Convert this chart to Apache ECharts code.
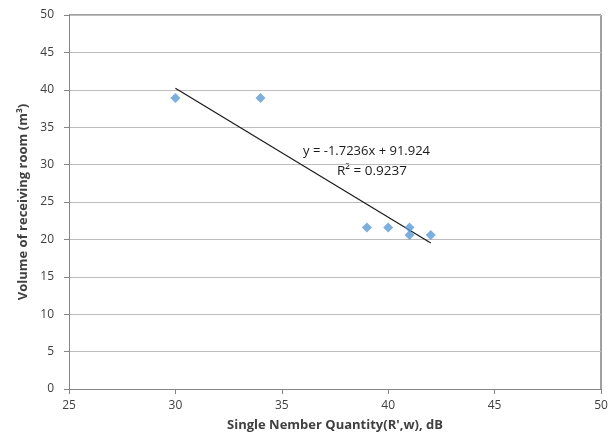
<!DOCTYPE html>
<html>
<head>
<meta charset="utf-8">
<script src="https://cdn.jsdelivr.net/npm/echarts@6/dist/echarts.min.js"></script>
<style>
  html, body { margin: 0; padding: 0; background: #fff; }
  #chart { width: 615px; height: 441px; }
</style>
</head>
<body>
<div id="chart"></div>
<script>
// Measured single number quantity (dB) vs receiving room volume (m³)
var ratingDb = [30, 34, 39, 40, 41, 41, 42];
var roomVolume = [38.9, 38.9, 21.6, 21.6, 21.6, 20.6, 20.6];

// Linear trendline coefficients and the span it is drawn over
var trendSlope = -1.7236;
var trendIntercept = 91.924;
var trendR2 = 0.9237;
var trendSpan = [30, 42];

var xTicks = [25, 30, 35, 40, 45, 50];
var yTicks = [0, 5, 10, 15, 20, 25, 30, 35, 40, 45, 50];

var points = ratingDb.map(function (x, i) { return [x, roomVolume[i]]; });
var trendLine = trendSpan.map(function (x) { return [x, trendSlope * x + trendIntercept]; });

var font = '"Open Sans", "Liberation Sans", sans-serif';

var chart = echarts.init(document.getElementById('chart'), null, { renderer: 'canvas' });
chart.setOption({
  animation: false,
  backgroundColor: '#ffffff',
  grid: { left: 69, right: 14, top: 15, bottom: 52, containLabel: false },
  xAxis: {
    type: 'value',
    min: xTicks[0], max: xTicks[xTicks.length - 1], interval: 5,
    name: "Single Nember Quantity(R',w), dB",
    nameLocation: 'middle', nameGap: 30,
    nameTextStyle: { fontFamily: font, fontWeight: 'bold', fontSize: 13, color: '#404040' },
    axisLine: { show: true, lineStyle: { color: '#868686', width: 1 } },
    axisTick: { show: true, length: 5, lineStyle: { color: '#868686' } },
    axisLabel: { fontFamily: font, fontSize: 12, color: '#404040', margin: 11 },
    splitLine: { show: false }
  },
  yAxis: {
    type: 'value',
    min: yTicks[0], max: yTicks[yTicks.length - 1], interval: 5,
    name: 'Volume of receiving room (m³)',
    nameLocation: 'middle', nameGap: 38, nameRotate: 90,
    nameTextStyle: { fontFamily: font, fontWeight: 'bold', fontSize: 13, color: '#404040' },
    axisLine: { show: true, lineStyle: { color: '#868686', width: 1 } },
    axisTick: { show: true, length: 5, lineStyle: { color: '#868686' } },
    axisLabel: { fontFamily: font, fontSize: 12, color: '#404040', margin: 15 },
    splitLine: { show: true, lineStyle: { color: '#bdbdbd', width: 1 } }
  },
  series: [
    {
      type: 'scatter',
      data: points,
      symbol: 'diamond',
      symbolSize: 10,
      itemStyle: { color: '#5b9bd5' },
      z: 3
    },
    {
      type: 'line',
      data: trendLine,
      symbol: 'none',
      lineStyle: { color: '#1a1a1a', width: 1.2 },
      z: 2
    }
  ],
  graphic: [
    // frame edges on the top and right of the plot area
    { type: 'line', shape: { x1: 69, y1: 15, x2: 601, y2: 15 }, style: { stroke: '#404040', lineWidth: 1 } },
    { type: 'line', shape: { x1: 601, y1: 15, x2: 601, y2: 389 }, style: { stroke: '#404040', lineWidth: 1 } },
    {
      type: 'text', left: 303, top: 145,
      style: { text: 'y = ' + trendSlope + 'x + ' + trendIntercept, fontFamily: font, fontSize: 13, fill: '#1a1a1a' }
    },
    {
      type: 'text', left: 337, top: 164,
      style: { text: 'R² = ' + trendR2.toFixed(4), fontFamily: font, fontSize: 13.5, fill: '#1a1a1a' }
    }
  ]
});
</script>
</body>
</html>
